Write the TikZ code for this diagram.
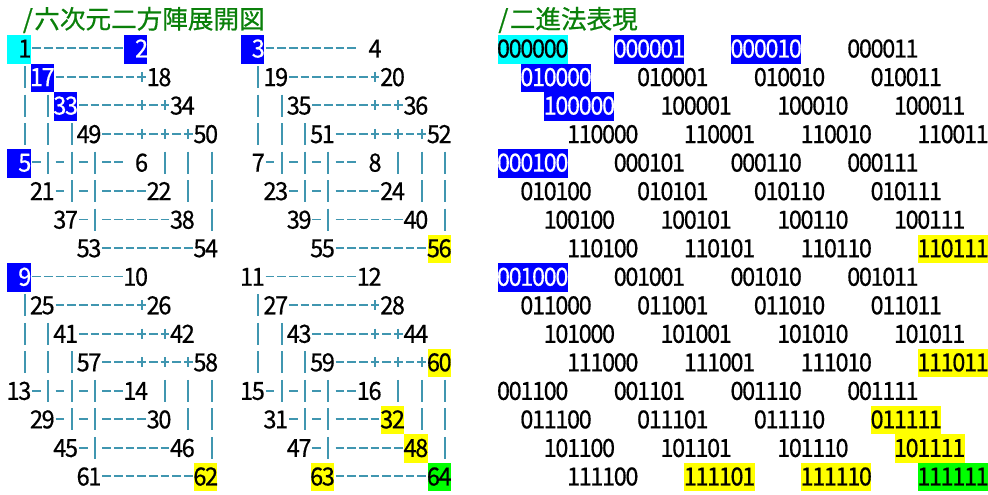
\documentclass[tikz,border=0pt]{standalone}
\usepackage{fontspec}
\setmainfont{Noto Sans CJK JP}
\newfontfamily\digitfont[FakeStretch=0.94,FakeBold=0.5]{Noto Sans CJK JP}
\newfontfamily\titlefont[FakeBold=0.6]{Noto Sans CJK JP}

\definecolor{lncol}{RGB}{64,150,176}
\definecolor{ttlgreen}{RGB}{10,128,10}
\definecolor{hlblue}{RGB}{0,0,255}
\definecolor{hlcyan}{RGB}{0,255,255}
\definecolor{hlyellow}{RGB}{255,255,0}
\definecolor{hlgreen}{RGB}{0,255,0}

\def\CW{11.675}
\def\XO{7.3}
\def\RH{28.53}
\def\YO{35}
\def\hlblueword{hlblue}

\makeatletter
\newcommand\monostr[1]{\mono@i#1\relax}
\def\mono@i#1{\ifx\relax#1\else\makebox[\CW pt][c]{#1}\expandafter\mono@i\fi}
\makeatother

\newcommand\sethl[2]{\expandafter\def\csname hlc@#1\endcsname{#2}}
\sethl{1}{hlcyan}
\sethl{2}{hlblue}\sethl{3}{hlblue}\sethl{17}{hlblue}\sethl{33}{hlblue}\sethl{5}{hlblue}\sethl{9}{hlblue}
\sethl{56}{hlyellow}\sethl{60}{hlyellow}\sethl{32}{hlyellow}\sethl{48}{hlyellow}\sethl{62}{hlyellow}\sethl{63}{hlyellow}
\sethl{64}{hlgreen}

\tikzset{
  numtxt/.style={inner sep=0pt,outer sep=0pt,font=\digitfont\fontsize{25pt}{25pt}\selectfont},
  ttl/.style={inner sep=0pt,outer sep=0pt,text=ttlgreen,font=\titlefont\fontsize{25.6pt}{25.6pt}\selectfont},
  dashln/.style={draw=lncol,line width=1.9pt},
  pipeln/.style={draw=lncol,line width=2pt},
}

% ---- cell drawing helpers ----
\newcommand\hd[3]{% row, first col, last col (relative to block)
  \foreach \c in {#2,...,#3}{%
    \draw[dashln] ({\XO+(\c+\co)*\CW+1.5},{\YO+(#1+\ro-1)*\RH+13.3}) -- ++(8.7,0);}}
\newcommand\vb[2]{% row, col
  \draw[pipeln] ({\XO+(#2+\co+0.5)*\CW},{\YO+(#1+\ro-1)*\RH+2.5}) -- ++(0,22);}
\newcommand\pl[2]{% row, col
  \draw[dashln] ({\XO+(#2+\co+0.5)*\CW},{\YO+(#1+\ro-1)*\RH+13.3}) ++(-4.3,0) -- ++(8.6,0) ++(-4.3,-5) -- ++(0,10);}

\newcommand\blocklines[2]{%
  \def\co{#1}\def\ro{#2}%
  \hd{1}{2}{9}%
  \vb{2}{1}\hd{2}{4}{10}\pl{2}{11}%
  \vb{3}{1}\vb{3}{3}\hd{3}{6}{10}\pl{3}{11}\hd{3}{12}{12}\pl{3}{13}%
  \vb{4}{1}\vb{4}{3}\vb{4}{5}\hd{4}{8}{10}\pl{4}{11}\hd{4}{12}{12}\pl{4}{13}\hd{4}{14}{14}\pl{4}{15}%
  \hd{5}{2}{2}\vb{5}{3}\hd{5}{4}{4}\vb{5}{5}\hd{5}{6}{6}\vb{5}{7}\hd{5}{8}{9}\vb{5}{13}\vb{5}{15}\vb{5}{17}%
  \hd{6}{4}{4}\vb{6}{5}\hd{6}{6}{6}\vb{6}{7}\hd{6}{8}{11}\vb{6}{15}\vb{6}{17}%
  \hd{7}{6}{6}\vb{7}{7}\hd{7}{8}{13}\vb{7}{17}%
  \hd{8}{8}{15}%
}

% ---- number fields ----
\newcommand\leftnum[3]{% row, col of 2-char field, offset from block base
  \edef\tmpnum{\the\numexpr\bbase+#3\relax}%
  \def\tmptext{black}%
  \ifcsname hlc@\tmpnum\endcsname
    \edef\tmpfill{\csname hlc@\tmpnum\endcsname}%
    \ifx\tmpfill\hlblueword\def\tmptext{white}\fi
    \fill[\tmpfill] ({\XO+(#2+\co)*\CW},{\YO+(#1+\ro-1)*\RH}) rectangle ++({2*\CW},\RH);
  \fi
  \node[numtxt,text=\tmptext,anchor=base east] (n\tmpnum) at ({\XO+(#2+\co+2)*\CW},{\YO+(#1+\ro-1)*\RH+22.5}) {\expandafter\monostr\expandafter{\tmpnum}};%
}
\newcommand\blocknums[3]{%
  \def\co{#1}\def\ro{#2}\def\bbase{#3}%
  \leftnum{1}{0}{0}\leftnum{1}{10}{1}%
  \leftnum{2}{2}{16}\leftnum{2}{12}{17}%
  \leftnum{3}{4}{32}\leftnum{3}{14}{33}%
  \leftnum{4}{6}{48}\leftnum{4}{16}{49}%
  \leftnum{5}{0}{4}\leftnum{5}{10}{5}%
  \leftnum{6}{2}{20}\leftnum{6}{12}{21}%
  \leftnum{7}{4}{36}\leftnum{7}{14}{37}%
  \leftnum{8}{6}{52}\leftnum{8}{16}{53}%
}

\newcommand\binnum[3]{% row, col, number n (binary of n-1)
  \edef\bn{\the\numexpr#3\relax}%
  \pgfmathtruncatemacro\bv{\bn-1}%
  \pgfmathtruncatemacro\bA{mod(floor(\bv/32),2)}%
  \pgfmathtruncatemacro\bB{mod(floor(\bv/16),2)}%
  \pgfmathtruncatemacro\bC{mod(floor(\bv/8),2)}%
  \pgfmathtruncatemacro\bD{mod(floor(\bv/4),2)}%
  \pgfmathtruncatemacro\bE{mod(floor(\bv/2),2)}%
  \pgfmathtruncatemacro\bF{mod(\bv,2)}%
  \edef\bstr{\bA\bB\bC\bD\bE\bF}%
  \def\tmptext{black}%
  \ifcsname hlc@\bn\endcsname
    \edef\tmpfill{\csname hlc@\bn\endcsname}%
    \ifx\tmpfill\hlblueword\def\tmptext{white}\fi
    \fill[\tmpfill] ({\XO+(#2)*\CW},{\YO+(#1-1)*\RH}) rectangle ++({6*\CW},\RH);
  \fi
  \node[numtxt,text=\tmptext,anchor=base west] (b\bn) at ({\XO+(#2)*\CW},{\YO+(#1-1)*\RH+22.5}) {\expandafter\monostr\expandafter{\bstr}};%
}
\newcommand\binrow[3]{%
  \binnum{#1}{42+#2}{#3}\binnum{#1}{52+#2}{#3+1}\binnum{#1}{62+#2}{#3+2}\binnum{#1}{72+#2}{#3+3}}

\begin{document}
\begin{tikzpicture}[x=1pt,y=-1pt]
\fill[white] (0,0) rectangle (988,495);
\useasboundingbox (0,0) rectangle (988,495);

% titles
\node[ttl,anchor=base west] (title1) at (21.5,28.5) {\makebox[12.8pt][c]{/}六次元二方陣展開図};
\node[ttl,anchor=base west] (title2) at (497,28.5) {\makebox[12.8pt][c]{/}二進法表現};

% left: unfolded 6-cube
\blocklines{0}{0}\blocklines{20}{0}\blocklines{0}{8}\blocklines{20}{8}
\blocknums{0}{0}{1}\blocknums{20}{0}{3}\blocknums{0}{8}{9}\blocknums{20}{8}{11}

% right: binary representation
\binrow{1}{0}{1}\binrow{2}{2}{17}\binrow{3}{4}{33}\binrow{4}{6}{49}
\binrow{5}{0}{5}\binrow{6}{2}{21}\binrow{7}{4}{37}\binrow{8}{6}{53}
\binrow{9}{0}{9}\binrow{10}{2}{25}\binrow{11}{4}{41}\binrow{12}{6}{57}
\binrow{13}{0}{13}\binrow{14}{2}{29}\binrow{15}{4}{45}\binrow{16}{6}{61}
\end{tikzpicture}
\end{document}
